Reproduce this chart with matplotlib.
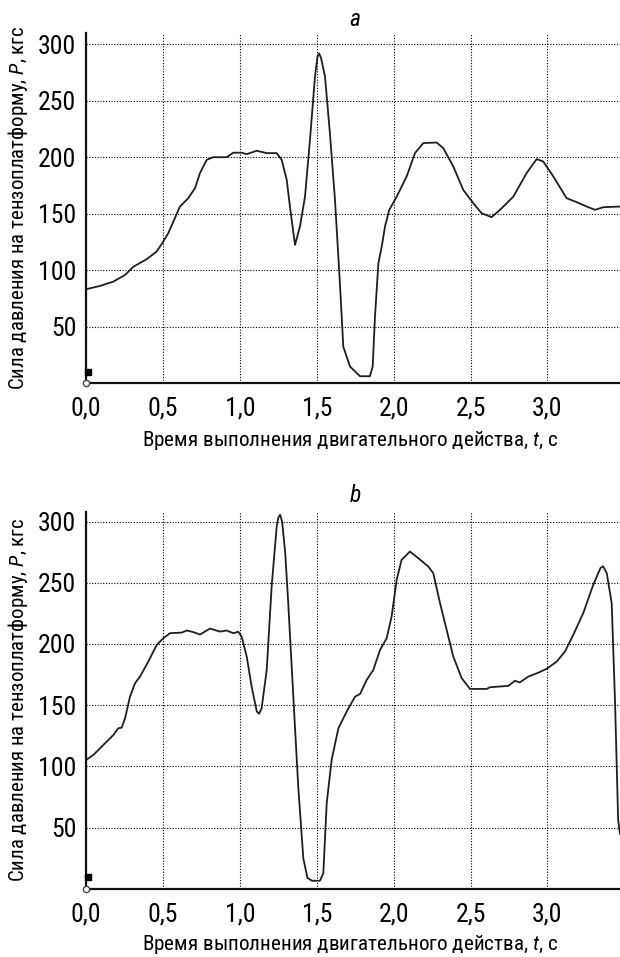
import matplotlib
matplotlib.use('Agg')
import matplotlib.pyplot as plt
from matplotlib import font_manager
from matplotlib.ticker import FuncFormatter

# prefer a condensed face if one is installed
names = {f.name for f in font_manager.fontManager.ttflist}
fam = 'Roboto'
for cand in ['Roboto Condensed', 'Liberation Sans Narrow', 'Open Sans Condensed', 'DejaVu Sans Condensed']:
    if cand in names:
        fam = cand
        break
plt.rcParams['font.family'] = [fam, 'DejaVu Sans']
plt.rcParams['mathtext.fontset'] = 'custom'
plt.rcParams['mathtext.it'] = fam + ':italic'
plt.rcParams['mathtext.rm'] = fam

# panel a
t_a = [0.0, 0.091, 0.178, 0.254, 0.308, 0.395, 0.459, 0.496, 0.535, 0.568,
       0.611, 0.665, 0.709, 0.741, 0.785, 0.828, 0.915, 0.958, 1.01, 1.045,
       1.11, 1.175, 1.24, 1.272, 1.305, 1.326, 1.359, 1.391, 1.424, 1.456,
       1.489, 1.505, 1.515, 1.528, 1.554, 1.586, 1.619, 1.651, 1.673, 1.717, 1.782, 1.846,
       1.864, 1.879, 1.901, 1.923, 1.944, 1.972, 2.02, 2.085, 2.139, 2.193,
       2.28, 2.323, 2.388, 2.453, 2.518, 2.572, 2.637, 2.692, 2.778, 2.865,
       2.93, 2.973, 3.038, 3.125, 3.19, 3.255, 3.31, 3.363, 3.472]
p_a = [83, 86, 89.8, 95.7, 103, 109.7, 116.4, 123.8, 132.7, 143,
       156.3, 163.7, 172.6, 185.9, 197.7, 200, 200, 204, 204, 202.7,
       205.7, 203.6, 203.6, 197.7, 180, 156.3, 122.3, 138.6, 165, 215,
       271.5, 289, 292, 288, 271.5, 221, 162, 88, 32, 14.5, 6, 6,
       14.5, 59, 106, 121, 138.6, 153.4, 165, 183, 203.6, 212.5,
       213, 208, 191.8, 171, 159.3, 150.4, 146.9, 153.4, 165, 186,
       198.3, 196.2, 183, 163.7, 160.2, 156.3, 153.4, 155.7, 156.3]

# panel b
t_b = [0.0, 0.048, 0.113, 0.178, 0.21, 0.232, 0.254, 0.286, 0.319, 0.351,
       0.405, 0.46, 0.503, 0.546, 0.622, 0.655, 0.698, 0.741, 0.806, 0.871,
       0.915, 0.958, 0.99, 1.012, 1.045, 1.077, 1.11, 1.125, 1.142, 1.175, 1.207,
       1.24, 1.25, 1.262, 1.275, 1.295, 1.315, 1.348, 1.38, 1.413, 1.44, 1.47, 1.521, 1.543,
       1.565, 1.597, 1.641, 1.695, 1.749, 1.782, 1.825, 1.868, 1.912, 1.955,
       1.987, 2.02, 2.052, 2.106, 2.161, 2.226, 2.258, 2.302, 2.345, 2.388,
       2.443, 2.497, 2.605, 2.627, 2.746, 2.789, 2.82, 2.876, 2.941, 2.995,
       3.06, 3.114, 3.168, 3.233, 3.298, 3.345, 3.362, 3.386, 3.418, 3.44, 3.46, 3.472]
p_b = [105.3, 109.4, 117.6, 125.7, 131.2, 131.7, 139.4, 157, 168, 173.4,
       185.6, 199.3, 204.7, 208.8, 209.3, 211, 209.7, 207.7, 212.6, 210.1,
       211, 208.8, 210, 206, 189.7, 165.2, 145, 143, 147.5, 178.8, 246.9,
       296, 303, 305.5, 300, 275, 233.3, 157, 83.5, 25, 9, 6.7, 6.7, 12.7,
       70, 105.3, 131.2, 144.8, 157, 159.2, 170.7, 178.8, 195.2, 204.7,
       222.4, 252.4, 268.7, 275.5, 270, 263.2, 257.8, 233.3, 211.5, 189.7,
       172, 163.3, 163.3, 164.7, 165.8, 170, 168.6, 173.4, 176.6, 179.7,
       185.6, 193.8, 207.4, 225.2, 248.3, 262, 263.5, 257.8, 233.3, 151.6, 56.3, 45]

x_ticks = [0.0, 0.5, 1.0, 1.5, 2.0, 2.5, 3.0]
y_ticks = [50, 100, 150, 200, 250, 300]

ylabel = 'Сила давления на тензоплатформу, $P$, кгс'
xlabel = 'Время выполнения двигательного действа, $t$, с'

fig = plt.figure(figsize=(6.2, 9.57), dpi=100)
ax_a = fig.add_axes([0.1387, 0.5998, 0.8613, 0.3657])
ax_b = fig.add_axes([0.1387, 0.0711, 0.8613, 0.3942])


def style(ax, t, p, ytop, letter, ycenter_px, xlab_px, title_px):
    ax.plot(t, p, color='#1e1e1e', lw=1.3)
    # recorder marks at origin
    ax.plot([0.0], [0.0], marker='o', ms=4.5, mfc='white', mec='#444444',
            mew=1, clip_on=False, zorder=5)
    ax.plot([0.012], [10], marker='s', ms=4, color='black', clip_on=False,
            zorder=5)
    ax.set_xlim(0, 3.472)
    ax.set_ylim(0, ytop)
    ax.set_xticks(x_ticks)
    ax.set_yticks(y_ticks)
    ax.xaxis.set_major_formatter(FuncFormatter(lambda v, _: f'{v:.1f}'.replace('.', ',')))
    ax.grid(True, color='black', linestyle=(0, (1, 1.5)), lw=0.8)
    ax.set_axisbelow(True)
    for s in ['top', 'right']:
        ax.spines[s].set_visible(False)
    for s in ['left', 'bottom']:
        ax.spines[s].set_linewidth(1.6)
        ax.spines[s].set_color('#111111')
    ax.tick_params(length=0, labelsize=18.5)
    ax.tick_params(axis='x', pad=10)
    ax.tick_params(axis='y', pad=7)
    fig.text(18 / 620, 1 - ycenter_px / 957, ylabel, rotation=90,
             ha='center', va='center', fontsize=15)
    fig.text(350 / 620, 1 - xlab_px / 957, xlabel, ha='center',
             va='center', fontsize=15.2)
    fig.text(355 / 620, 1 - title_px / 957, letter, ha='center',
             va='center', fontsize=17, style='italic')


style(ax_a, t_a, p_a, 310, 'a', 208, 440, 19)
style(ax_b, t_b, p_b, 308, 'b', 700, 945, 496)

fig.savefig('out.png', dpi=100, facecolor='white')
